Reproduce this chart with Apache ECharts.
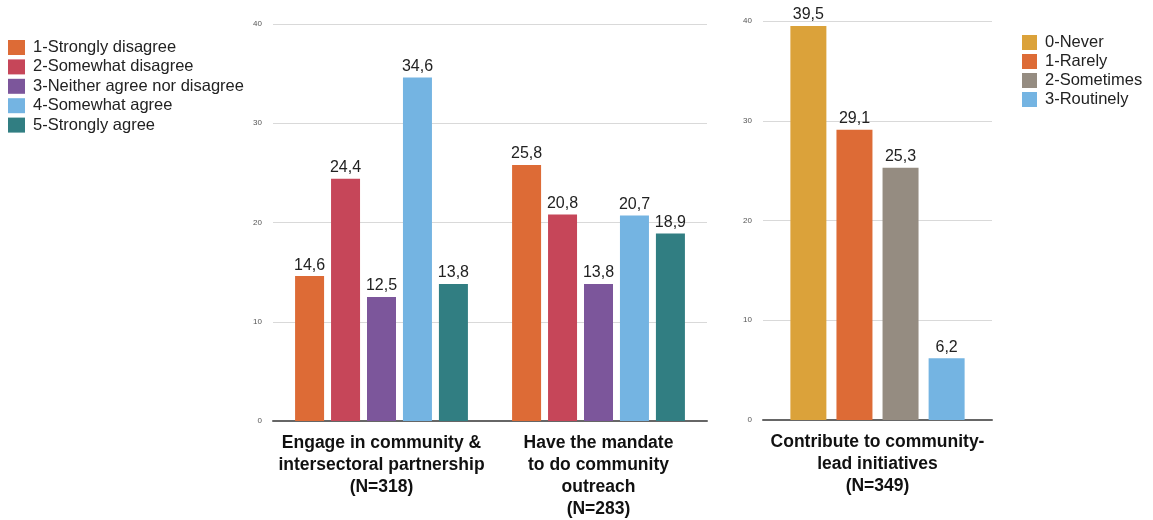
<!DOCTYPE html>
<html>
<head>
<meta charset="utf-8">
<script src="https://cdn.jsdelivr.net/npm/echarts@6/dist/echarts.min.js"></script>
<style>
  html, body { margin: 0; padding: 0; background: #fff; }
  #chart { width: 1153px; height: 520px; }
</style>
</head>
<body>
<div id="chart"></div>
<script>
// Agreement question: two items, five answer levels
const agreeCategories = [
  'Engage in community &\nintersectoral partnership\n(N=318)',
  'Have the mandate\nto do community\noutreach\n(N=283)'
];
const agreeLevels = [
  '1-Strongly disagree',
  '2-Somewhat disagree',
  '3-Neither agree nor disagree',
  '4-Somewhat agree',
  '5-Strongly agree'
];
const stronglyDisagree = [14.6, 25.8];
const somewhatDisagree = [24.4, 20.8];
const neitherAgree = [12.5, 13.8];
const somewhatAgree = [34.6, 20.7];
const stronglyAgree = [13.8, 18.9];

// Frequency question: one item, four answer levels
const freqCategories = ['Contribute to community-\nlead initiatives\n(N=349)'];
const freqLevels = ['0-Never', '1-Rarely', '2-Sometimes', '3-Routinely'];
const never = [39.5];
const rarely = [29.1];
const sometimes = [25.3];
const routinely = [6.2];

const yTicks = { min: 0, max: 40, interval: 10 };

const agreeColors = ['#DD6B36', '#C64659', '#7C569B', '#74B4E2', '#317E82'];
const freqColors = ['#DBA23A', '#DD6B36', '#958C81', '#74B4E2'];

const FONT = '"Liberation Sans", Arial, Helvetica, sans-serif';

function commaLabel(p) {
  return String(p.value).replace('.', ',');
}

function barSeries(name, data, color, axisIndex, width, gap) {
  return {
    name: name,
    type: 'bar',
    xAxisIndex: axisIndex,
    yAxisIndex: axisIndex,
    data: data,
    barWidth: width,
    barGap: gap,
    itemStyle: { color: color },
    label: {
      show: true,
      position: 'top',
      distance: 3,
      formatter: commaLabel,
      fontFamily: FONT,
      fontSize: 16,
      color: '#222'
    }
  };
}

const agreeData = [stronglyDisagree, somewhatDisagree, neitherAgree, somewhatAgree, stronglyAgree];
const freqData = [never, rarely, sometimes, routinely];

const series = [];
agreeLevels.forEach((n, i) => series.push(barSeries(n, agreeData[i], agreeColors[i], 0, 29, '24%')));
freqLevels.forEach((n, i) => series.push(barSeries(n, freqData[i], freqColors[i], 1, 36, '28%')));

function xAxisFor(idx, cats) {
  return {
    type: 'category',
    gridIndex: idx,
    data: cats,
    axisTick: { show: false },
    axisLine: { lineStyle: { color: '#666', width: 2 } },
    axisLabel: {
      interval: 0,
      margin: 11,
      fontFamily: FONT,
      fontSize: 17.5,
      fontWeight: 'bold',
      lineHeight: 22,
      color: '#111'
    }
  };
}

function yAxisFor(idx) {
  return {
    type: 'value',
    gridIndex: idx,
    min: yTicks.min,
    max: yTicks.max,
    interval: yTicks.interval,
    axisLine: { show: false },
    axisTick: { show: false },
    splitLine: { lineStyle: { color: '#d9d9d9', width: 1 } },
    axisLabel: { fontFamily: FONT, fontSize: 8, color: '#555', margin: 11 }
  };
}

function legendFor(names, left, top, iconW, gap) {
  return {
    data: names,
    orient: 'vertical',
    left: left,
    top: top,
    padding: 0,
    itemWidth: iconW,
    itemHeight: 15,
    itemGap: gap,
    icon: 'rect',
    textStyle: { fontFamily: FONT, fontSize: 16.5, color: '#222', padding: [0, 0, 0, 3] }
  };
}

const chart = echarts.init(document.getElementById('chart'), null, { renderer: 'canvas' });
chart.setOption({
  backgroundColor: '#fff',
  animation: false,
  grid: [
    { left: 273, width: 434, top: 24, height: 398 },
    { left: 763, width: 229, top: 21, height: 399 }
  ],
  legend: [
    legendFor(agreeLevels, 8, 39, 17, 2.4),
    legendFor(freqLevels, 1022, 34, 15, 2)
  ],
  xAxis: [xAxisFor(0, agreeCategories), xAxisFor(1, freqCategories)],
  yAxis: [yAxisFor(0), yAxisFor(1)],
  series: series
});
</script>
</body>
</html>
